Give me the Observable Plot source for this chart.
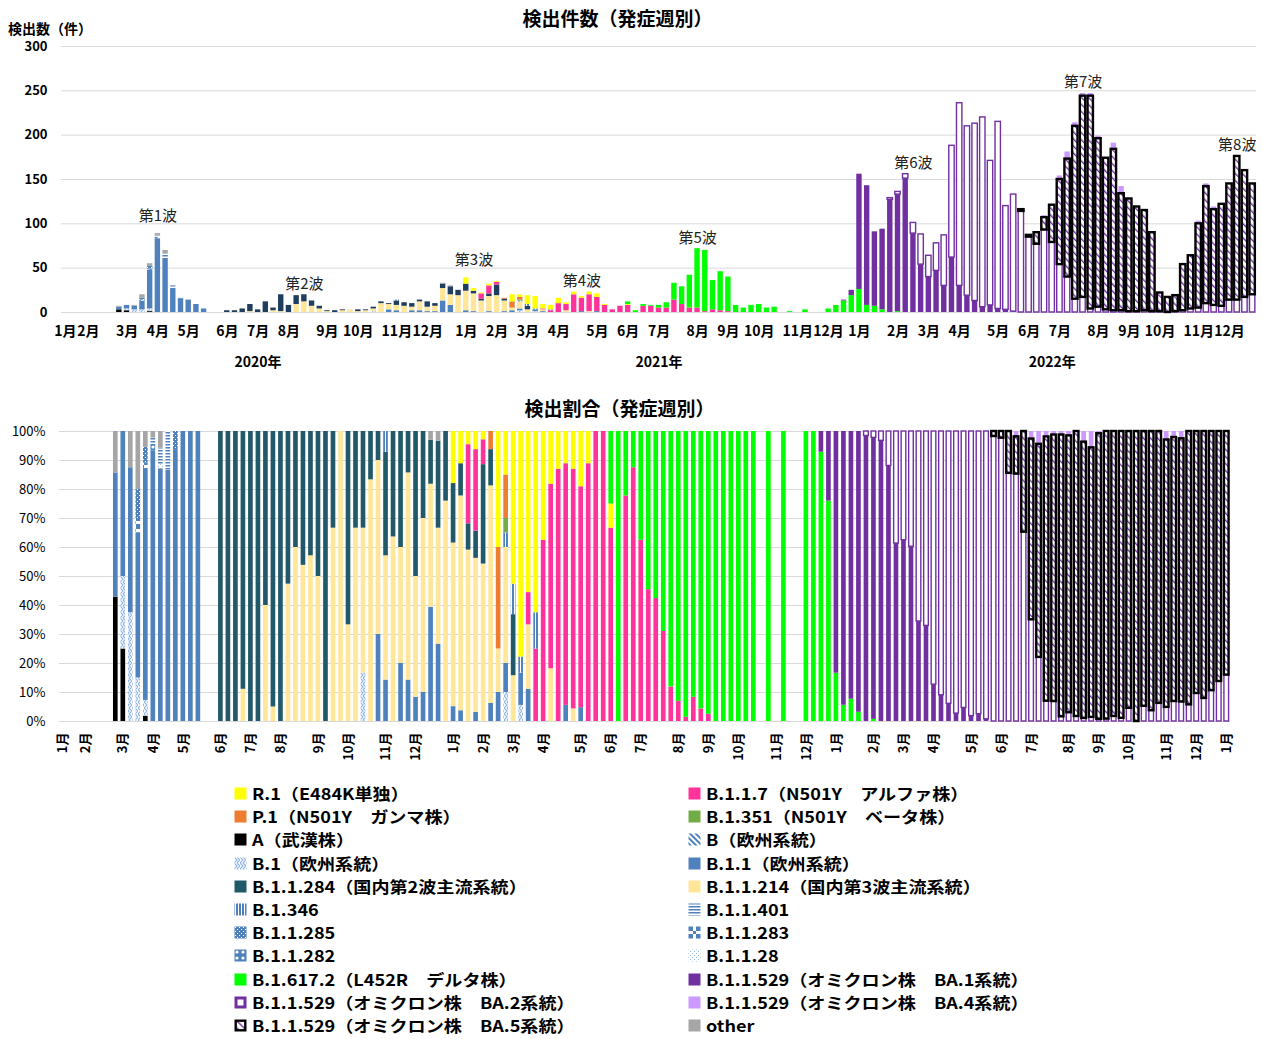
<!DOCTYPE html>
<html><head><meta charset="utf-8">
<script src="https://cdn.jsdelivr.net/npm/d3@7"></script>
<script src="https://cdn.jsdelivr.net/npm/@observablehq/plot@0.6"></script>
<style>
body{margin:0;background:#fff;font-family:"Noto Sans CJK JP",sans-serif;color:#000;}
#root{position:relative;width:1263px;height:1039px;overflow:hidden;background:#fff;}
.abs{position:absolute;white-space:nowrap;}
.title{font-weight:bold;font-size:19px;line-height:20px;}
.leg{font-weight:bold;font-size:16px;line-height:21px;height:21px;display:flex;align-items:center;}
.leg svg{margin-right:5px;flex:none;}
.leg span{display:inline-block;transform:scaleX(1.13);transform-origin:left center;}
</style></head>
<body>
<svg width="0" height="0" style="position:absolute">
<defs>
<pattern id="p-b" width="4" height="4" patternUnits="userSpaceOnUse" patternTransform="rotate(-45)"><rect width="4" height="4" fill="#fff"/><rect width="2" height="4" fill="#4f81bd"/></pattern>
<pattern id="p-b1" width="6" height="6" patternUnits="userSpaceOnUse"><rect width="6" height="6" fill="#fff"/><path d="M0,0 L3,3 L0,6 M3,0 L6,3 L3,6" stroke="#8eb4e3" stroke-width="1.2" fill="none"/></pattern>
<pattern id="p-346" width="3" height="3" patternUnits="userSpaceOnUse"><rect width="3" height="3" fill="#4f81bd"/><rect x="1" width="1" height="3" fill="#fff"/></pattern>
<pattern id="p-401" width="3" height="3" patternUnits="userSpaceOnUse"><rect width="3" height="3" fill="#fff"/><rect width="3" height="1.5" fill="#4f81bd"/></pattern>
<pattern id="p-285" width="4" height="4" patternUnits="userSpaceOnUse"><rect width="4" height="4" fill="#4f81bd"/><rect x="1" y="1" width="1" height="1" fill="#fff"/><rect x="3" y="3" width="1" height="1" fill="#fff"/></pattern>
<pattern id="p-283" width="8" height="8" patternUnits="userSpaceOnUse"><rect width="8" height="8" fill="#fff"/><rect width="5" height="5" fill="#4f81bd"/><rect x="5" y="5" width="3" height="3" fill="#4f81bd"/></pattern>
<pattern id="p-282" width="6" height="6" patternUnits="userSpaceOnUse"><rect width="6" height="6" fill="#4f81bd"/><circle cx="3" cy="3" r="1.6" fill="#fff"/></pattern>
<pattern id="p-28" width="4" height="4" patternUnits="userSpaceOnUse"><rect width="4" height="4" fill="#fff"/><rect width="1" height="1" fill="#8eb4e3"/><rect x="2" y="2" width="1" height="1" fill="#8eb4e3"/></pattern>
<pattern id="p-ba5" width="5" height="5" patternUnits="userSpaceOnUse" patternTransform="rotate(-45)"><rect width="5" height="5" fill="#fff"/><rect width="1.4" height="5" fill="#7030a0"/></pattern>
</defs></svg>
<div id="root"></div>
<script>
// ---------------- DATA (week index 0 = first week of Jan 2020) ----------------
const run = (start, counts) => counts.map((c, k) => [start + k, c]);

const cntA      = [[7,3],[8,2],[11,1]];
const cntB      = [];
const cntB1     = [[8,2],[9,3],[10,3],[11,3],[40,1],[59,2],[61,1]];
const cntB11    = [[7,3],[8,4],[9,4],[10,10],[11,44],[12,83],[13,61],[14,26],[15,15],[16,14],[17,9],[18,4],
                   [42,3],[43,2],[45,2],[46,2],[47,1],[48,1],[49,13],[50,8],[52,2],[53,1],[55,1],[57,1],[58,2],
                   [59,2],[61,2],[62,1],[67,1],[69,1]];
const cnt283    = [[10,1],[11,1]];
const cnt28     = [[13,1]];
const cnt285    = [[10,2],[11,3],[15,1]];
const cnt282    = [[12,2]];
const cnt401    = [[12,2],[13,4],[14,4]];
const cnt214    = run(24, [1,0,0,2,1,0,9,12,7,4, 1,0,2,3,1,2,3,10,6,6, 7,4,10,5,6,14,12,19,22,20,
                           13,17,19,12,3,8,3,0,2,0, 0,2,0,0,1]);
const cnt284    = run(21, [2,2,4,8,3,12,3,19,8,10, 8,6,3,1,2,1,0,2,1,2, 2,1,5,4,4,2,6,3,5,9,
                           6,8,3,2,3,12,2,0,0,4]);
const cntAlpha  = run(54, [6,9,3,0,0,0,0,0,1,2, 10,7,20,15,19,16,8,3,7,8, 0,7,7,5,5,14,9,5,5,1, 3,2,1]);
const cnt346    = [[43,1],[59,1],[60,2],[61,1],[63,1]];
const cntBeta   = [[59,1]];
const cntGamma  = [[57,1],[58,7],[59,3]];
const cntR1     = run(52, [7,3,1,2,1,0,8,3,10,14, 5,5,6,2,3,2,3,4,1,0, 0,1]);
const cntDelta  = run(73, [3,2,2,1,3,6,19,20,37,67, 69,33,44,39,8,5,8,9,5,6, 0,1,0,3,0,0,4,8,13,19,
                           26,8,7,3,0,1]);
const cntBA1    = run(101, [1,6,130,135,84,91,127,132,151,89, 54,40,47,30,62,30,19,13,6,8, 4,3,1]);
const cntBA2    = run(107, [2,3,5,12,34,24,31,57,126,206, 191,200,214,163,211,117,132,114,85,77,
                            93,79,54,40,15,17,4,6,3,2, 2,1,1,2,1,1,0,1,2,4, 5,10,8,7,14,14,17,20,8]);
const cntBA5    = run(124, [2,2,13,14,42,96,133,195,227,240, 190,171,182,132,127,118,113,89,21,17,
                            18,52,60,95,132,108,115,131,162,143, 125,42]);
const cntBA4    = run(127, [2,0,4,8,4,3,3,3,0,7, 8,1,0,0,0,0,0,0,0,0, 3,3,3]);
const cntOther  = [[7,1],[9,1],[10,4],[11,3],[12,2],[13,4],[49,1],[50,1]];

const seriesData = {
  "A": cntA, "B": cntB, "B.1": cntB1, "B.1.1": cntB11, "B.1.1.283": cnt283, "B.1.1.28": cnt28,
  "B.1.1.285": cnt285, "B.1.1.282": cnt282, "B.1.1.401": cnt401, "B.1.1.214": cnt214,
  "B.1.1.284": cnt284, "B.1.1.7": cntAlpha, "B.1.346": cnt346, "B.1.351": cntBeta, "P.1": cntGamma,
  "R.1": cntR1, "B.1.617.2": cntDelta, "BA.1": cntBA1, "BA.2": cntBA2, "BA.5": cntBA5, "BA.4": cntBA4,
  "other": cntOther
};
// stacking order, bottom to top
const stackOrder = ["A","B","B.1","B.1.1","B.1.1.283","B.1.1.28","B.1.1.285","B.1.1.282","B.1.1.401",
  "B.1.1.214","B.1.1.284","B.1.1.7","B.1.346","B.1.351","P.1","R.1","B.1.617.2","BA.1","BA.2","BA.5","BA.4","other"];

const labelOf = {
  "R.1": "R.1（E484K単独）", "B.1.1.7": "B.1.1.7（N501Y　アルファ株）",
  "P.1": "P.1（N501Y　ガンマ株）", "B.1.351": "B.1.351（N501Y　ベータ株）",
  "A": "A（武漢株）", "B": "B（欧州系統）",
  "B.1": "B.1（欧州系統）", "B.1.1": "B.1.1（欧州系統）",
  "B.1.1.284": "B.1.1.284（国内第2波主流系統）", "B.1.1.214": "B.1.1.214（国内第3波主流系統）",
  "B.1.346": "B.1.346", "B.1.1.401": "B.1.1.401",
  "B.1.1.285": "B.1.1.285", "B.1.1.283": "B.1.1.283",
  "B.1.1.282": "B.1.1.282", "B.1.1.28": "B.1.1.28",
  "B.1.617.2": "B.1.617.2（L452R　デルタ株）", "BA.1": "B.1.1.529（オミクロン株　BA.1系統）",
  "BA.2": "B.1.1.529（オミクロン株　BA.2系統）", "BA.4": "B.1.1.529（オミクロン株　BA.4系統）",
  "BA.5": "B.1.1.529（オミクロン株　BA.5系統）", "other": "other"
};
const legendLeft  = ["R.1","P.1","A","B.1","B.1.1.284","B.1.346","B.1.1.285","B.1.1.282","B.1.617.2","BA.2","BA.5"];
const legendRight = ["B.1.1.7","B.1.351","B","B.1.1","B.1.1.214","B.1.1.401","B.1.1.283","B.1.1.28","BA.1","BA.4","other"];

const monthTickWeeks = [0,3,8,12,16,21,25,29,34,38,43,47, 52,56,60,64,69,73,77,82,86,90,95,99,
                        103,108,112,116,121,125,129,134,138,142,147,151, 155];
const monthTickLabels = ["1月","2月","3月","4月","5月","6月","7月","8月","9月","10月","11月","12月",
                         "1月","2月","3月","4月","5月","6月","7月","8月","9月","10月","11月","12月",
                         "1月","2月","3月","4月","5月","6月","7月","8月","9月","10月","11月","12月","1月"];
const yearLabels = ["2020年","2021年","2022年"];
const yearFirstWeek = [0, 52, 103];
const yearLastWeek = [51, 102, 154];
const waveLabels = ["第1波","第2波","第3波","第4波","第5波","第6波","第7波","第8波"];
const waveWeeks = [12, 31, 53, 67, 82, 110, 132, 152];

// ---------------- STYLES ----------------
const fillOf = {
  "A":"#000000","B":"url(#p-b)","B.1":"url(#p-b1)","B.1.1":"#4f81bd","B.1.1.283":"url(#p-283)",
  "B.1.1.28":"url(#p-28)","B.1.1.285":"url(#p-285)","B.1.1.282":"url(#p-282)","B.1.1.401":"url(#p-401)",
  "B.1.1.214":"#ffe699","B.1.1.284":"#215968","B.1.1.7":"#ff3399","B.1.346":"url(#p-346)",
  "B.1.351":"#70ad47","P.1":"#ed7d31","R.1":"#ffff00","B.1.617.2":"#00ff00","BA.1":"#7030a0",
  "BA.2":"#ffffff","BA.5":"url(#p-ba5)","BA.4":"#cc99ff","other":"#a6a6a6"
};
const topFillOf = {...fillOf, "B.1.1.284":"#1f3d5c"};
const strokeOf = k => k === "BA.2" ? "#7030a0" : k === "BA.5" ? "#000000" : "none";
const strokeWidthOf = k => k === "BA.2" ? 1.4 : k === "BA.5" ? 2.4 : 0;
const waveLift = [7, 0, 8, 0, 0, 0, 0, 0]; // extra px above the peak for some wave labels

// ---------------- BUILD ----------------
const drawOrder = stackOrder.filter(k => k !== "BA.5").concat(["BA.5"]);
const rows = [];
for (const key of drawOrder) for (const [w, c] of seriesData[key]) if (c > 0) rows.push({week: w, variant: key, count: c});
const nTop = 155, nAll = 156;
const rowsTop = rows.filter(d => d.week < nTop);
const totals = d3.rollup(rowsTop, v => d3.sum(v, d => d.count), d => d.week);
const waves = waveLabels.map((label, i) => ({
  label, week: waveWeeks[i], lift: waveLift[i],
  peak: d3.max(d3.range(waveWeeks[i] - 2, waveWeeks[i] + 3), w => totals.get(w) || 0)
}));
const monthLabelAt = new Map(monthTickWeeks.map((w, i) => [w, monthTickLabels[i]]));
const yearAt = new Map(yearLabels.map((y, i) => [Math.floor((yearFirstWeek[i] + yearLastWeek[i]) / 2), y]));
const font = '"Noto Sans CJK JP", sans-serif';

const root = document.getElementById("root");
function addText(txt, cls, left, top, extra = "") {
  const d = document.createElement("div");
  d.className = "abs " + cls; d.textContent = txt;
  d.style.cssText += `left:${left}px;top:${top}px;${extra}`;
  root.appendChild(d); return d;
}

// top chart
const topChart = Plot.plot({
  width: 1263, height: 380,
  marginTop: 46, marginBottom: 68, marginLeft: 61, marginRight: 7,
  style: {fontFamily: font, color: "#000", background: "transparent"},
  x: {type: "band", domain: d3.range(nTop), paddingInner: 0.3, paddingOuter: 0.15},
  y: {domain: [0, 300]},
  color: {type: "identity"},
  marks: [
    Plot.gridY({ticks: d3.range(0, 301, 50), stroke: "#d9d9d9", strokeOpacity: 1}),
    Plot.axisY({ticks: d3.range(0, 301, 50), tickSize: 0, tickPadding: 14, fontWeight: "bold", fontSize: 13, label: null}),
    Plot.barY(rowsTop, {
      x: "week", y: "count", z: "variant", order: stackOrder,
      fill: d => topFillOf[d.variant], stroke: d => strokeOf(d.variant), strokeWidth: d => strokeWidthOf(d.variant)
    }),
    Plot.text(waves.filter(d => d.lift === 0), {x: "week", y: "peak", text: "label", lineAnchor: "bottom", dy: -6, fontSize: 15, fill: "#222"}),
    Plot.text(waves.filter(d => d.lift > 0), {x: "week", y: "peak", text: "label", lineAnchor: "bottom", dy: -13, fontSize: 15, fill: "#222"}),
    Plot.axisX({ticks: monthTickWeeks.filter(w => w < nTop), tickFormat: w => monthLabelAt.get(w),
      tickSize: 0, tickPadding: 14, fontWeight: "bold", fontSize: 14, label: null}),
    Plot.axisX({ticks: [...yearAt.keys()], tickFormat: w => yearAt.get(w),
      tickSize: 0, tickPadding: 45, fontWeight: "bold", fontSize: 14, label: null})
  ]
});
topChart.style.position = "absolute"; topChart.style.left = "0px"; topChart.style.top = "0px";
root.appendChild(topChart);

// bottom chart
const bottomChart = Plot.plot({
  width: 1263, height: 360,
  marginTop: 11, marginBottom: 59, marginLeft: 59, marginRight: 33,
  style: {fontFamily: font, color: "#000", background: "transparent"},
  x: {type: "band", domain: d3.range(nAll), paddingInner: 0.38, paddingOuter: 0.19},
  y: {domain: [0, 1]},
  color: {type: "identity"},
  marks: [
    Plot.gridY({ticks: d3.range(0, 11).map(k => k / 10), stroke: "#d9d9d9", strokeOpacity: 1}),
    Plot.axisY({ticks: d3.range(0, 11).map(k => k / 10), tickFormat: d => Math.round(d * 100) + "%",
      tickSize: 0, tickPadding: 14, fontSize: 13, label: null}),
    Plot.barY(rows, {
      x: "week", y: "count", z: "variant", order: stackOrder, offset: "normalize",
      fill: d => fillOf[d.variant], stroke: d => strokeOf(d.variant), strokeWidth: d => strokeWidthOf(d.variant)
    }),
    Plot.axisX({ticks: monthTickWeeks, tickFormat: w => monthLabelAt.get(w), tickRotate: -90,
      tickSize: 0, tickPadding: 11, fontWeight: "bold", fontSize: 13, label: null})
  ]
});
bottomChart.style.position = "absolute"; bottomChart.style.left = "0px"; bottomChart.style.top = "420px";
root.appendChild(bottomChart);

// titles
addText("検出件数（発症週別）", "title", 0, 8, "width:1263px;text-align:center;left:-14px;");
addText("検出数（件）", "", 8, 20, "font-weight:bold;font-size:14px;line-height:16px;");
addText("検出割合（発症週別）", "title", 0, 398, "width:1263px;text-align:center;left:-12px;");

// legend
function swatch(key) {
  const f = fillOf[key], s = strokeOf(key);
  const sw = key === "BA.2" ? 3 : key === "BA.5" ? 2.4 : 0;
  const inset = sw / 2;
  return `<svg width="13" height="13" viewBox="0 0 13 13"><rect x="${0.5 + inset}" y="${0.5 + inset}" width="${12 - sw}" height="${12 - sw}" fill="${f}" stroke="${s}" stroke-width="${sw}"/></svg>`;
}
function legendColumn(keys, left) {
  keys.forEach((k, i) => {
    const d = document.createElement("div");
    d.className = "abs leg";
    d.style.left = left + "px";
    d.style.top = (783 + i * 23.2) + "px";
    d.innerHTML = swatch(k) + "<span></span>";
    d.querySelector("span").textContent = labelOf[k];
    root.appendChild(d);
  });
}
legendColumn(legendLeft, 234);
legendColumn(legendRight, 688);
</script>
</body></html>
